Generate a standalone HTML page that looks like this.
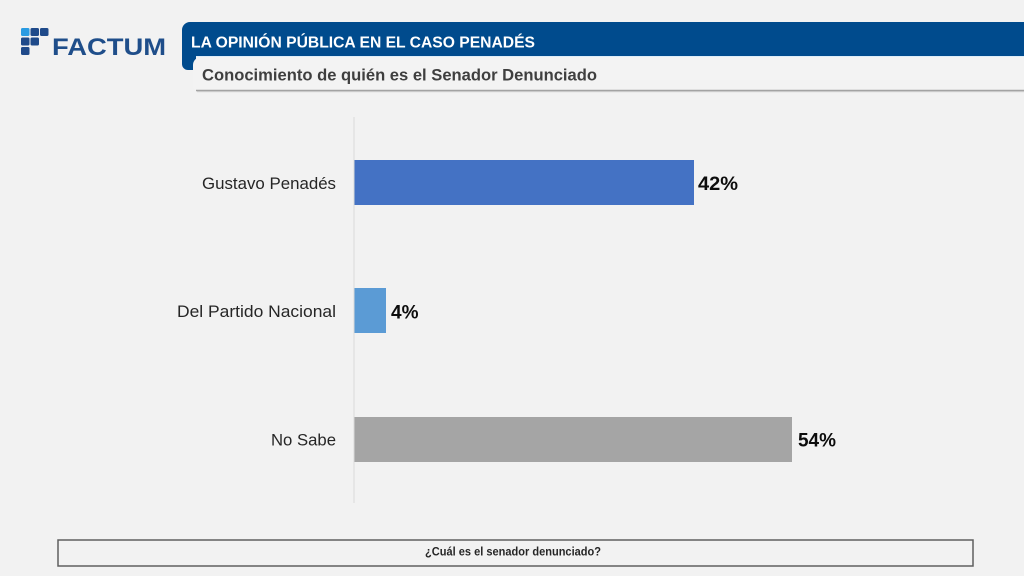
<!DOCTYPE html>
<html>
<head>
<meta charset="utf-8">
<style>
html,body{margin:0;padding:0;background:#f2f2f2;}
svg{display:block;}
text{font-family:"Liberation Sans",Arial,sans-serif;}
</style>
</head>
<body>
<svg width="1024" height="576" viewBox="0 0 1024 576" xmlns="http://www.w3.org/2000/svg">
  <rect x="0" y="0" width="1024" height="576" fill="#f2f2f2"/>

  <!-- Logo icon -->
  <rect x="21" y="28" width="8.5" height="8" rx="1.5" fill="#2a9be2"/>
  <rect x="30.5" y="28" width="8.5" height="8" rx="1.5" fill="#1f4a8a"/>
  <rect x="40" y="28" width="8.5" height="8" rx="1.5" fill="#1f4a8a"/>
  <rect x="21" y="37.5" width="8.5" height="8" rx="1.5" fill="#1f4a8a"/>
  <rect x="30.5" y="37.5" width="8.5" height="8" rx="1.5" fill="#1f4a8a"/>
  <rect x="21" y="47" width="8.5" height="8" rx="1.5" fill="#1f4a8a"/>
  <text x="52" y="55" font-size="24" font-weight="bold" fill="#1f4e8a" textLength="114" lengthAdjust="spacingAndGlyphs">FACTUM</text>

  <!-- Header banner -->
  <path d="M182,30 A8,8 0 0 1 190,22 H1024 V56 H196 V70 H188 A6,6 0 0 1 182,64 Z" fill="#004b8d"/>
  <line x1="196" y1="56.5" x2="1024" y2="56.5" stroke="#dcecf8" stroke-width="1"/>
  <line x1="197" y1="91.5" x2="1024" y2="91.5" stroke="#d6d6d6" stroke-width="1.5"/>
  <path d="M193,65 A8,8 0 0 1 201,57 H1024 V90 H197 A4,4 0 0 1 193,86 Z" fill="#f3f3f3"/>
  <line x1="196" y1="90.5" x2="1024" y2="90.5" stroke="#a3a3a3" stroke-width="1.5"/>
  <text x="191" y="47.5" font-size="16" font-weight="bold" fill="#ffffff" textLength="344" lengthAdjust="spacingAndGlyphs">LA OPINIÓN PÚBLICA EN EL CASO PENADÉS</text>
  <text x="202" y="80.5" font-size="16.5" font-weight="bold" fill="#3f3f3f" textLength="395" lengthAdjust="spacingAndGlyphs">Conocimiento de quién es el Senador Denunciado</text>

  <!-- Axis -->
  <line x1="354" y1="117" x2="354" y2="503" stroke="#d9d9d9" stroke-width="1"/>

  <!-- Bars -->
  <rect x="354.5" y="160" width="339.5" height="45" fill="#4472c4"/>
  <rect x="354.5" y="288" width="31.5" height="45" fill="#5b9bd5"/>
  <rect x="354.5" y="417" width="437.5" height="45" fill="#a5a5a5"/>

  <!-- Category labels -->
  <text x="336" y="189" font-size="17" fill="#262626" text-anchor="end" textLength="134" lengthAdjust="spacingAndGlyphs">Gustavo Penadés</text>
  <text x="336" y="317" font-size="17" fill="#262626" text-anchor="end" textLength="159" lengthAdjust="spacingAndGlyphs">Del Partido Nacional</text>
  <text x="336" y="445.5" font-size="17" fill="#262626" text-anchor="end" textLength="65" lengthAdjust="spacingAndGlyphs">No Sabe</text>

  <!-- Value labels -->
  <text x="698" y="190" font-size="19" font-weight="bold" fill="#0d0d0d" textLength="40" lengthAdjust="spacingAndGlyphs">42%</text>
  <text x="391" y="318.5" font-size="19" font-weight="bold" fill="#0d0d0d" textLength="27.5" lengthAdjust="spacingAndGlyphs">4%</text>
  <text x="798" y="446.5" font-size="19" font-weight="bold" fill="#0d0d0d" textLength="38" lengthAdjust="spacingAndGlyphs">54%</text>

  <!-- Footer box -->
  <rect x="58" y="540" width="915" height="26" fill="#f2f2f2" stroke="#5f5f5f" stroke-width="1.5"/>
  <text x="425" y="555.5" font-size="12" font-weight="bold" fill="#262626" textLength="176" lengthAdjust="spacingAndGlyphs">¿Cuál es el senador denunciado?</text>
</svg>
</body>
</html>
